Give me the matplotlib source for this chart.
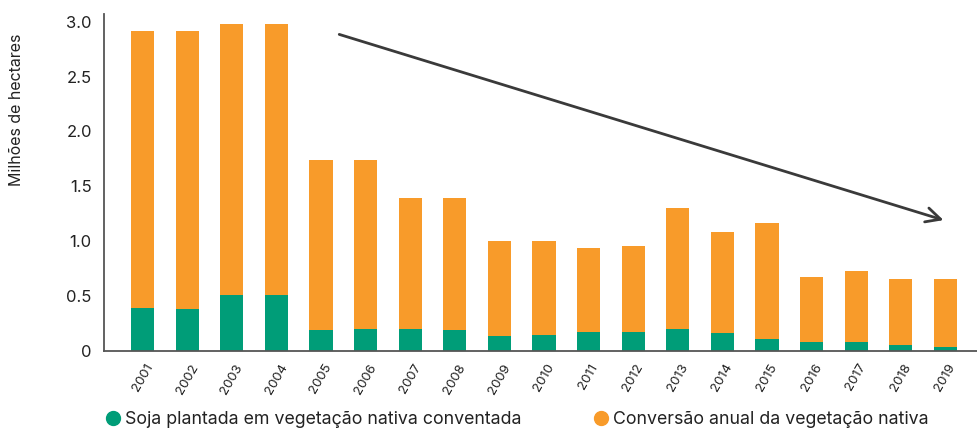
import matplotlib
matplotlib.use('Agg')
import matplotlib.pyplot as plt
from matplotlib.lines import Line2D

plt.rcParams['font.family'] = ['Inter', 'DejaVu Sans']

years = ['2001', '2002', '2003', '2004', '2005', '2006', '2007', '2008', '2009', '2010',
         '2011', '2012', '2013', '2014', '2015', '2016', '2017', '2018', '2019']
# soja plantada em vegetacao nativa convertida (milhoes de ha)
soja = [0.39, 0.38, 0.51, 0.51, 0.19, 0.20, 0.20, 0.19, 0.13, 0.14,
        0.17, 0.17, 0.20, 0.16, 0.105, 0.08, 0.08, 0.05, 0.03]
# total da conversao anual (topo das barras)
total = [2.92, 2.915, 2.98, 2.98, 1.74, 1.74, 1.39, 1.39, 1.00, 1.00,
         0.94, 0.95, 1.30, 1.08, 1.16, 0.67, 0.73, 0.65, 0.65]
conversao = [t - s for t, s in zip(total, soja)]

green = '#009D78'
orange = '#F89B2A'
grey = '#3a3a3a'

fig = plt.figure(figsize=(9.77, 4.28), dpi=100)
ax = fig.add_axes([0.1068, 0.181, 1 - 0.1068, 0.967 - 0.181])

x = list(range(len(years)))
ax.bar(x, soja, width=0.52, color=green, zorder=1)
ax.bar(x, conversao, bottom=soja, width=0.52, color=orange, zorder=1)

ax.set_xlim(-0.857, 18.71)
ax.set_ylim(0, 3.07)
ax.set_yticks([0, 0.5, 1.0, 1.5, 2.0, 2.5, 3.0])
ax.set_yticklabels(['0', '0.5', '1.0', '1.5', '2.0', '2.5', '3.0'], fontsize=12, color='#222222')
ax.set_xticks(x)
ax.set_xticklabels(years, rotation=60, fontsize=9.5, color='#222222')
ax.tick_params(axis='both', length=0)
ax.tick_params(axis='y', pad=9)
ax.tick_params(axis='x', pad=8)

for side in ['top', 'right']:
    ax.spines[side].set_visible(False)
for side in ['left', 'bottom']:
    ax.spines[side].set_color('#555555')
    ax.spines[side].set_linewidth(1.3)

# tendencia de queda
ax.annotate('', xy=(17.96, 1.19), xytext=(4.41, 2.885),
            arrowprops=dict(arrowstyle='->', color=grey, lw=2.0,
                            mutation_scale=26, shrinkA=0, shrinkB=0))

fig.text(17 / 977, 1 - 110 / 428, 'Milhões de hectares', rotation=90,
         ha='center', va='center', fontsize=11.5, color='#222222')

handles = [Line2D([], [], marker='o', linestyle='', markersize=10, color=green),
           Line2D([], [], marker='o', linestyle='', markersize=10, color=orange)]
labels = ['Soja plantada em vegetação nativa conventada',
          'Conversão anual da vegetação nativa']
fig.legend(handles, labels, loc='center left', bbox_to_anchor=(104 / 977, 1 - 420 / 428),
           ncol=2, frameon=False, fontsize=12.8, handlelength=1.0, handletextpad=0.17,
           columnspacing=4.0, borderpad=0, borderaxespad=0, labelcolor='#222222')

fig.savefig('out.png', dpi=100)
